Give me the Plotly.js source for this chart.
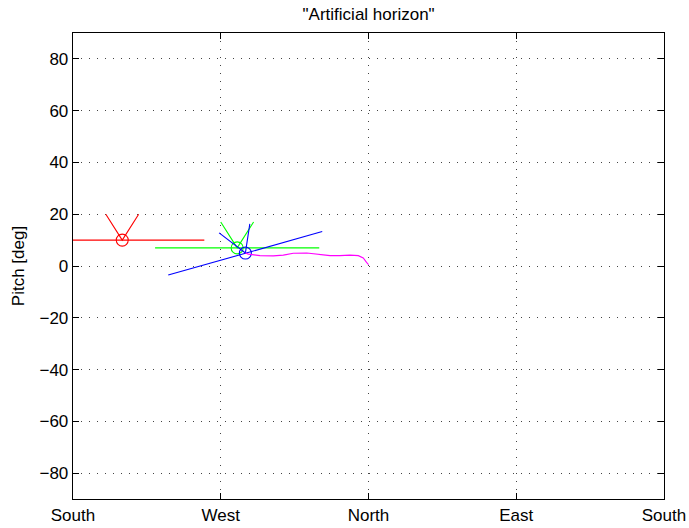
<!DOCTYPE html>
<html>
<head>
<meta charset="utf-8">
<script src="https://cdn.plot.ly/plotly-3.0.1.min.js"></script>
<style>html,body{margin:0;padding:0;background:#fff;}#chart{width:689px;height:528px;}</style>
</head>
<body>
<div id="chart"></div>
<script>
// Compass heading tick labels
const headingTicks = [-180, -90, 0, 90, 180];
const headingLabels = ["South", "West", "North", "East", "South"];
const pitchTicks = [-80, -60, -40, -20, 0, 20, 40, 60, 80];

// Red horizon
const redHorizonX = [-200, -100];
const redHorizonY = [10, 10];
const redVX = [-160, -150, -140];
const redVY = [20, 10, 20];
const redCenterX = [-150];
const redCenterY = [10];

// Green horizon
const greenHorizonX = [-130, -30];
const greenHorizonY = [7, 7];
const greenVX = [-90, -80, -70];
const greenVY = [17, 7, 17];
const greenCenterX = [-80];
const greenCenterY = [7];

// Blue horizon (tilted)
const blueHorizonX = [-122, -28.2];
const blueHorizonY = [-3.5, 13.3];
const blueVX = [-91, -75, -72.3];
const blueVY = [12.8, 5, 16.3];
const blueCenterX = [-75];
const blueCenterY = [5];

// Magenta track
const trackX = [-75, -73.2, -66.1, -58.0, -51.9, -45.8, -37.6, -29.5, -23.4, -17.4, -11.3, -6.2, -3.2, -1.2, 0];
const trackY = [5, 4.6, 4.0, 3.9, 4.2, 4.9, 5.0, 4.4, 4.0, 4.0, 4.2, 4.0, 3.1, 1.4, 0.5];

function line(x, y, c) {
  return {x: x, y: y, type: 'scatter', mode: 'lines', line: {color: c, width: 1.1}, hoverinfo: 'skip'};
}
function ring(x, y, c) {
  return {x: x, y: y, type: 'scatter', mode: 'markers',
    marker: {symbol: 'circle-open', size: 12, color: c, line: {color: c, width: 1.1}}, hoverinfo: 'skip'};
}

const data = [
  line(redHorizonX, redHorizonY, '#ff0000'),
  line(redVX, redVY, '#ff0000'),
  ring(redCenterX, redCenterY, '#ff0000'),
  line(greenHorizonX, greenHorizonY, '#00ff00'),
  line(greenVX, greenVY, '#00ff00'),
  ring(greenCenterX, greenCenterY, '#00ff00'),
  line(blueHorizonX, blueHorizonY, '#0000ff'),
  line(blueVX, blueVY, '#0000ff'),
  ring(blueCenterX, blueCenterY, '#0000ff'),
  line(trackX, trackY, '#ff00ff')
];

const font = {family: 'Arial, "Liberation Sans", Helvetica, sans-serif', size: 17, color: '#000'};

const layout = {
  width: 689, height: 528,
  margin: {l: 73, r: 25, t: 33, b: 29, pad: 0},
  paper_bgcolor: '#fff', plot_bgcolor: '#fff',
  showlegend: false,
  font: font,
  title: {text: '"Artificial horizon"', font: font, x: 0.535, xanchor: 'center', y: 0.973, yanchor: 'middle'},
  xaxis: {
    range: [-180, 180], tickvals: headingTicks, ticktext: headingLabels,
    showgrid: true, gridcolor: '#444', griddash: '1px,7px', gridwidth: 1,
    zeroline: false, showline: true, linecolor: '#000', linewidth: 1.3, mirror: 'ticks',
    ticks: 'inside', ticklen: 6, tickcolor: '#000', tickfont: font, automargin: false
  },
  yaxis: {
    range: [-90, 90], tickvals: pitchTicks,
    showgrid: true, gridcolor: '#444', griddash: '1px,7px', gridwidth: 1,
    zeroline: false, showline: true, linecolor: '#000', linewidth: 1.3, mirror: 'ticks',
    ticks: 'inside', ticklen: 6, tickcolor: '#000', tickfont: font, automargin: false,
    title: {text: 'Pitch [deg]', font: font, standoff: 10}
  }
};

Plotly.newPlot('chart', data, layout, {staticPlot: true, displayModeBar: false});
</script>
</body>
</html>
